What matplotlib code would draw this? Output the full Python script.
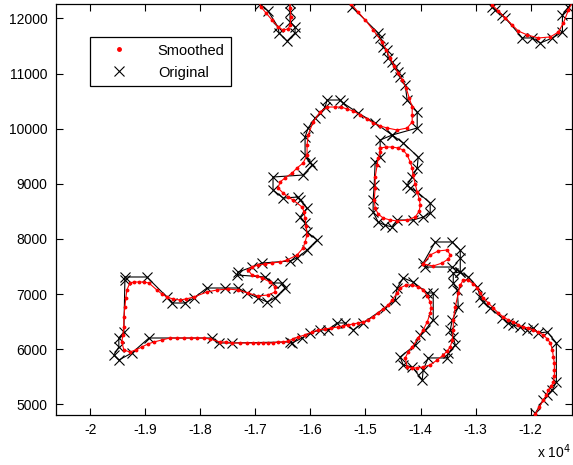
import matplotlib
matplotlib.use("Agg")
import matplotlib.pyplot as plt
from matplotlib.lines import Line2D

plt.rcParams['font.family'] = ['Liberation Sans', 'DejaVu Sans']

# ---------------- data ----------------
# Original track, top-left excursion
orig_a_x = [-17024, -16915, -16770, -16588, -16570, -16424, -16279, -16279, -16370, -16370, -16370, -16370]
orig_a_y = [12372, 12263, 12136, 11846, 11737, 11592, 11737, 11846, 11937, 12118, 12281, 12427]
smooth_a_x = [-16952, -16897, -16806, -16697, -16588, -16497, -16406, -16370, -16352, -16370, -16370]
smooth_a_y = [12336, 12209, 12100, 11973, 11846, 11792, 11810, 11882, 12028, 12191, 12390]

# Original track, top-right excursion
orig_b_x = [-12770, -12697, -12643, -12516, -12461, -12152, -11970, -11824, -11606, -11424, -11424, -11315, -11188]
orig_b_y = [12390, 12209, 12155, 12064, 12009, 11647, 11647, 11556, 11647, 11755, 12064, 12209, 12372]
smooth_b_x = [-12770, -12697, -12588, -12461, -12334, -12225, -12061, -11861, -11643, -11497, -11406, -11315, -11225]
smooth_b_y = [12427, 12245, 12136, 12009, 11882, 11773, 11701, 11647, 11665, 11755, 11919, 12155, 12336]

# Original track, main path
orig_main_x = [
    -15370, -15243, -14770, -14734, -14679, -14606, -14588, -14515, -14461, -14406,
    -14370, -14279, -14243, -14061, -14061, -14515, -14734, -14734, -14824, -14842,
    -14861, -14861, -14770, -14652, -14515, -14425, -14134, -13952, -13825, -13825,
    -14061, -14188, -14243, -14152, -14061, -14043, -14315, -14515, -14824, -15134,
    -15406, -15461, -15697, -15733, -15824, -15915, -16042, -16097, -16097, -16006,
    -15970, -16133, -16679, -16679, -16497, -16224, -16188, -16061, -16188, -16097,
    -16061, -15879, -16061, -16243, -16370, -16879, -17061, -17315, -17333, -16824,
    -16679, -16515, -16461, -16642, -16788, -16952, -17152, -17315, -17551, -17879,
    -18115, -18279, -18515, -18606, -18970, -19369, -19369, -19388, -19479, -19479,
    -19569, -19479, -19242, -18933, -17788, -17661, -17424, -16370, -16333, -16152,
    -16006, -15824, -15679, -15515, -15370, -15224, -15043, -14652, -14461, -14425,
    -14315, -14134, -13879, -13770, -13770, -13915, -14006, -14097, -14370, -14315,
    -14152, -13970, -13952, -13861, -13516, -13497, -13370, -13406, -13461, -13424,
    -13315, -13333, -13406, -13406, -13279, -13279, -13279, -13424, -13734, -13952,
    -13915, -13424, -13279, -13134, -12970, -12915, -12861, -12734, -12516, -12406,
    -12316, -12188, -12061, -11952, -11861, -11697, -11534, -11534, -11606, -11697,
    -11770, -11915, -12006]
orig_main_y = [
    12390, 12209, 11737, 11646, 11483, 11429, 11284, 11211, 11120, 11029,
    10939, 10794, 10521, 10303, 10013, 9886, 9795, 9487, 9396, 8979,
    8707, 8489, 8308, 8253, 8217, 8344, 8344, 8398, 8471, 8653,
    8852, 8924, 8979, 9124, 9288, 9487, 9741, 9886, 10104, 10285,
    10467, 10521, 10521, 10394, 10285, 10194, 10013, 9850, 9523, 9396,
    9342, 9160, 9124, 8888, 8743, 8761, 8707, 8562, 8398, 8290,
    8126, 7981, 7800, 7655, 7600, 7564, 7491, 7400, 7346, 7310,
    7201, 7201, 7110, 6929, 6857, 6929, 7020, 7110, 7110, 7110,
    6929, 6838, 6838, 6947, 7310, 7310, 7255, 6312, 6203, 6040,
    5895, 5804, 5931, 6203, 6203, 6113, 6113, 6131, 6113, 6203,
    6294, 6349, 6349, 6476, 6476, 6349, 6476, 6748, 6893, 7110,
    7292, 7219, 7020, 7020, 6530, 6349, 6258, 6077, 5859, 5714,
    5678, 5442, 5624, 5841, 5841, 5931, 6077, 6222, 6349, 6530,
    6766, 7074, 7201, 7382, 7400, 7655, 7800, 7945, 7945, 7564,
    7491, 7491, 7400, 7310, 7128, 6947, 6857, 6748, 6566, 6476,
    6439, 6403, 6349, 6385, 6294, 6312, 6113, 5405, 5260, 5169,
    5078, 4842, 4679]

# Smoothed track, main path
smooth_main_x = [
    -15297, -15261, -15134, -15006, -14861, -14697, -14624, -14552, -14479, -14406,
    -14334, -14261, -14206, -14152, -14152, -14152, -14243, -14425, -14606, -14734,
    -14861, -14970, -15097, -15224, -15334, -15443, -15552, -15697, -15824, -15952,
    -16042, -16061, -16061, -16133, -16243, -16333, -16461, -16552, -16588, -16497,
    -16406, -16315, -16152, -16115, -16097, -16079, -16061, -16097, -16133, -16243,
    -16424, -16552, -16697, -16824, -16952, -17061, -17133, -17061, -16970, -16879,
    -16733, -16642, -16642, -16770, -16952, -17133, -17315, -17497, -17697, -17879,
    -18115, -18261, -18370, -18497, -18606, -18697, -18788, -18933, -19024, -19115,
    -19206, -19279, -19333, -19352, -19369, -19388, -19388, -19406, -19424, -19388,
    -19279, -19170, -19061, -18951, -18842, -18697, -18551, -18424, -18297, -18170,
    -18061, -17933, -17824, -17642, -17533, -17424, -17279, -17152, -17042, -16952,
    -16861, -16770, -16679, -16588, -16497, -16406, -16315, -16224, -16097, -15970,
    -15861, -15733, -15624, -15497, -15406, -15315, -15224, -15134, -15043, -14952,
    -14861, -14770, -14679, -14588, -14515, -14425, -14370, -14261, -14152, -14043,
    -13952, -13879, -13825, -13806, -13825, -13879, -13952, -14043, -14152, -14224,
    -14279, -14243, -14152, -14061, -13952, -13825, -13697, -13588, -13516, -13461,
    -13424, -13406, -13406, -13370, -13315, -13279, -13224, -13134, -13043, -12970,
    -12915, -12861, -12770, -12679, -12588, -12497, -12406, -12316, -12225, -12134,
    -12043, -11952, -11861, -11770, -11697, -11643, -11606, -11588, -11570, -11570,
    -11570, -11588, -11624, -11679, -11715, -11770, -11843, -11915, -11988]
smooth_main_y = [
    12372, 12263, 12118, 11973, 11792, 11574, 11429, 11284, 11138, 11011,
    10884, 10739, 10558, 10394, 10249, 10122, 10013, 9977, 10013, 10050,
    10104, 10176, 10249, 10322, 10358, 10394, 10394, 10394, 10303, 10122,
    9886, 9705, 9523, 9378, 9288, 9197, 9106, 9034, 8925, 8834,
    8761, 8707, 8580, 8489, 8380, 8235, 8072, 7945, 7836, 7709,
    7618, 7582, 7564, 7546, 7528, 7491, 7437, 7346, 7328, 7292,
    7219, 7128, 7038, 6983, 6965, 7020, 7074, 7092, 7074, 7038,
    6947, 6911, 6893, 6911, 6947, 7002, 7074, 7201, 7219, 7219,
    7219, 7201, 7074, 6929, 6766, 6585, 6403, 6258, 6131, 5986,
    5950, 5986, 6040, 6095, 6131, 6167, 6203, 6203, 6203, 6203,
    6203, 6203, 6185, 6131, 6131, 6113, 6113, 6113, 6113, 6113,
    6113, 6113, 6113, 6131, 6131, 6149, 6185, 6222, 6258, 6312,
    6349, 6367, 6385, 6403, 6421, 6439, 6458, 6476, 6494, 6530,
    6585, 6657, 6730, 6802, 6893, 7020, 7111, 7165, 7165, 7128,
    7074, 6965, 6857, 6748, 6657, 6494, 6349, 6203, 6040, 5950,
    5841, 5678, 5660, 5660, 5678, 5714, 5805, 5895, 5968, 6040,
    6167, 6349, 6530, 6766, 7020, 7165, 7255, 7255, 7183, 7111,
    7020, 6929, 6839, 6748, 6657, 6585, 6530, 6494, 6439, 6403,
    6385, 6349, 6312, 6258, 6185, 6113, 5986, 5859, 5750, 5623,
    5514, 5405, 5332, 5260, 5169, 5078, 4951, 4824, 4715]

# Smoothed loop near (-14.4e3, 9000)
smooth_loop_x = [-14734, -14624, -14515, -14406, -14315, -14243, -14188, -14152, -14134, -14097,
                 -14061, -14024, -14006, -14024, -14097, -14243, -14425, -14552, -14679, -14770,
                 -14824, -14842, -14824, -14824, -14788, -14770, -14734, -14734]
smooth_loop_y = [9650, 9668, 9668, 9650, 9614, 9523, 9396, 9288, 9160, 8997,
                 8852, 8725, 8616, 8507, 8398, 8344, 8326, 8344, 8380, 8453,
                 8562, 8707, 8924, 9124, 9342, 9469, 9578, 9650]

# Smoothed small teardrop near (-13.7e3, 7600)
smooth_tear_x = [-13952, -13825, -13679, -13516, -13461, -13497, -13606, -13770, -13952]
smooth_tear_y = [7546, 7709, 7782, 7800, 7709, 7637, 7564, 7510, 7546]

x_ticks = [-20000, -19000, -18000, -17000, -16000, -15000, -14000, -13000, -12000]
x_tick_labels = ['-2', '-1.9', '-1.8', '-1.7', '-1.6', '-1.5', '-1.4', '-1.3', '-1.2']
y_ticks = [5000, 6000, 7000, 8000, 9000, 10000, 11000, 12000]
y_tick_labels = ['5000', '6000', '7000', '8000', '9000', '10000', '11000', '12000']

# ---------------- plot ----------------
fig = plt.figure(figsize=(5.73, 4.65), dpi=100)
ax = fig.add_axes([56 / 573, 50 / 465, 516 / 573, 411 / 465])

orig_sets = [(orig_a_x, orig_a_y), (orig_b_x, orig_b_y), (orig_main_x, orig_main_y)]
smooth_sets = [(smooth_a_x, smooth_a_y), (smooth_b_x, smooth_b_y), (smooth_main_x, smooth_main_y),
               (smooth_loop_x, smooth_loop_y), (smooth_tear_x, smooth_tear_y)]

for xs, ys in orig_sets:
    ax.plot(xs, ys, '-', color='black', lw=0.8, marker='x', ms=7, mew=0.8, zorder=2)
for xs, ys in smooth_sets:
    ax.plot(xs, ys, '-', color='red', lw=0.8, marker='.', ms=3.5, zorder=3)

ax.set_xlim(-20620, -11250)
ax.set_ylim(4806, 12263)
ax.set_xticks(x_ticks)
ax.set_xticklabels(x_tick_labels)
ax.set_yticks(y_ticks)
ax.set_yticklabels(y_tick_labels)
ax.tick_params(direction='in', length=5, width=0.8, top=True, right=True, labelsize=10, pad=6)
for s in ax.spines.values():
    s.set_linewidth(0.9)

fig.text(571 / 573, 1 - 452 / 465, r'x 10$^{4}$', fontsize=10, ha='right', va='center')

handles = [Line2D([], [], ls='none', marker='.', color='red', ms=5),
           Line2D([], [], ls='none', marker='x', color='black', ms=7, mew=0.8)]
leg = ax.legend(handles, ['Smoothed', 'Original'], loc='upper left',
                bbox_to_anchor=((90 - 56) / 516, (415 - 37) / 411), borderaxespad=0,
                fancybox=False, edgecolor='black', framealpha=1, fontsize=10.5,
                handlelength=3.1, handletextpad=1.1, borderpad=0.45, labelspacing=0.55)
leg.get_frame().set_linewidth(0.9)

fig.savefig('out.png', dpi=100)
